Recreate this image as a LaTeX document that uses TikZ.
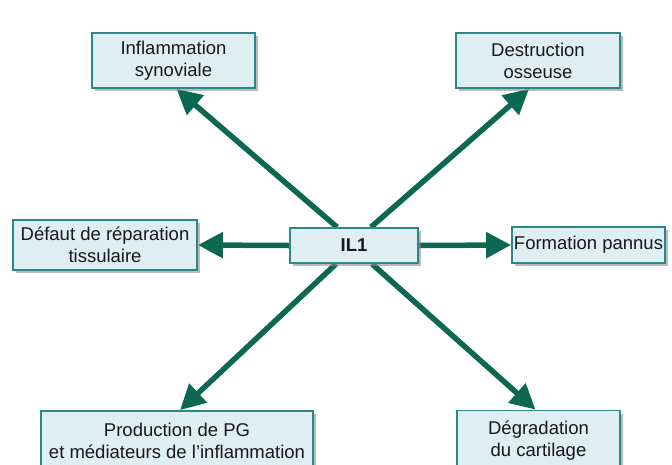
\documentclass[tikz,border=0pt]{standalone}
\usepackage{fontspec}
\setmainfont{Liberation Sans}
\usetikzlibrary{arrows.meta,shadows,backgrounds}
\definecolor{boxline}{RGB}{45,135,135}
\definecolor{boxfill}{RGB}{222,238,242}
\definecolor{arrowgreen}{RGB}{12,104,80}

\begin{document}
\begin{tikzpicture}[x=1pt,y=-1pt,
    box/.style={draw=boxline, line width=1.8pt, fill=boxfill, align=center, inner sep=0pt,
        font=\fontsize{18.5}{22}\selectfont, text=black!90,
        drop shadow={shadow xshift=3pt, shadow yshift=-3pt, fill=black!45, opacity=0.6}},
    link/.style={draw=arrowgreen, line width=5.5pt, -{Triangle[length=25pt,width=25pt]}}]
            \useasboundingbox (0,0) rectangle (672,464);
            \clip (0,0) rectangle (672,464);
            \node[box, minimum width=163pt, minimum height=55pt] (infl) at (173.5,60.5) {Inflammation\\synoviale};
            \node[box, minimum width=164pt, minimum height=55pt] (destr) at (538,60.5) {Destruction\\osseuse};
            \node[box, minimum width=184pt, minimum height=50pt] (defaut) at (105,245) {Défaut de réparation\\tissulaire};
            \node[box, minimum width=128pt, minimum height=35pt, font=\fontsize{18.5}{22}\selectfont\bfseries] (il1) at (354,245.5) {IL1};
            \node[box, minimum width=153pt, minimum height=36pt] (pannus) at (588.5,245) {Formation pannus};
            \node[box, minimum width=272pt, minimum height=60pt] (prod) at (177,441) {Production de PG\\et médiateurs de l’inflammation};
            \node[box, minimum width=163pt, minimum height=60pt] (degr) at (538.5,440.5) {Dégradation\\du cartilage};
            \begin{scope}[on background layer]
            \draw[link] ([xshift=-17pt]il1.north) -- ([xshift=3pt]infl.south);
            \draw[link] ([xshift=17pt]il1.north) -- ([xshift=-9pt]destr.south);
            \draw[link] (il1.west) -- (defaut.east);
            \draw[link] (il1.east) -- (pannus.west);
            \draw[link] ([xshift=-18pt]il1.south) -- ([xshift=3pt]prod.north);
            \draw[link] ([xshift=18pt]il1.south) -- ([xshift=-3pt]degr.north);
            \end{scope}
        \end{tikzpicture}
\end{document}
